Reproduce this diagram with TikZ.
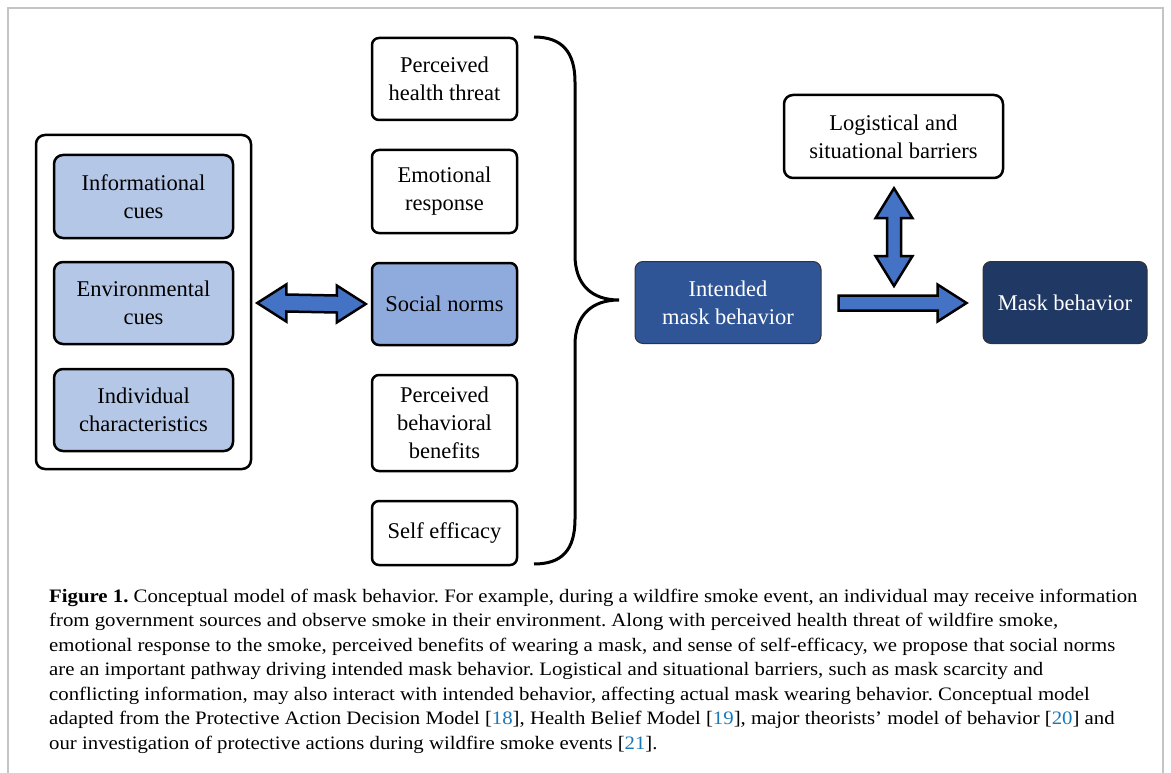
\documentclass[tikz,border=0pt]{standalone}
\usepackage{fontspec}
\setmainfont{Liberation Serif}
\newfontfamily\capfont[FakeStretch=1.094]{Liberation Serif}
\usetikzlibrary{calc}
\definecolor{lightfill}{HTML}{B4C7E7}
\definecolor{socfill}{HTML}{8FAADC}
\definecolor{intfill}{HTML}{2F5597}
\definecolor{maskfill}{HTML}{203864}
\definecolor{arrfill}{HTML}{4472C4}
\definecolor{framegray}{HTML}{C4C4C4}
\definecolor{refblue}{HTML}{1B78B8}
\newcommand{\rf}[1]{[\textcolor{refblue}{#1}]}
\frenchspacing
\tikzset{
  box/.style={draw=black, line width=2.5pt, rounded corners=9pt, align=center,
    font=\fontsize{22.5}{28}\selectfont, inner sep=0pt},
  darkbox/.style={draw=black!80, line width=1pt, rounded corners=8pt, align=center,
    font=\fontsize{22.5}{28}\selectfont, inner sep=0pt, text=white},
  fatarrow/.style={draw=black, line width=2.5pt, fill=arrfill, line join=miter},
  brace/.style={draw=black, line width=3pt},
  capline/.style={anchor=base west, inner sep=0pt, font=\capfont\fontsize{19}{24}\selectfont},
}
\begin{document}
\begin{tikzpicture}[x=1pt,y=-1pt]
\useasboundingbox (0,0) rectangle (1171,773);
\draw[framegray, line width=2pt] (8,773) -- (8,8) -- (1163,8) -- (1163,773);

% left group
\node[box, minimum width=215pt, minimum height=334pt] (cont) at (143.5,302) {};
\node[box, fill=lightfill, minimum width=179pt, minimum height=83pt] (info) at (143.5,196.5) {Informational\\cues};
\node[box, fill=lightfill, minimum width=179pt, minimum height=82pt] (env) at (143.5,303) {Environmental\\cues};
\node[box, fill=lightfill, minimum width=179pt, minimum height=82pt] (indiv) at (143.5,410) {Individual\\characteristics};

% middle column
\node[box, rounded corners=7pt, minimum width=145pt, minimum height=82pt] (pht) at (444.5,79) {Perceived\\health threat};
\node[box, rounded corners=7pt, minimum width=145pt, minimum height=83pt] (emo) at (444.5,191.5) {Emotional\\response};
\node[box, rounded corners=7pt, fill=socfill, minimum width=145pt, minimum height=82pt] (soc) at (444.5,304) {Social norms};
\node[box, rounded corners=7pt, minimum width=145pt, minimum height=96pt] (pbb) at (444.5,423) {Perceived\\behavioral\\benefits};
\node[box, rounded corners=7pt, minimum width=145pt, minimum height=64pt] (self) at (444.5,533) {Self efficacy};

% right side
\node[box, minimum width=219pt, minimum height=83pt] (log) at (893.5,136.5) {Logistical and\\situational barriers};
\node[darkbox, fill=intfill, minimum width=186pt, minimum height=82pt] (int) at (728,302.5) {Intended\\mask behavior};
\node[darkbox, fill=maskfill, minimum width=164pt, minimum height=82pt] (mask) at (1065,302.5) {Mask behavior};

% brace
\coordinate (btip) at (619,300);
\draw[brace] (534,37) .. controls (562,37) and (575,52) .. (575,82)
  -- (575,255) .. controls (575,285) and (592,300) .. (btip)
  .. controls (592,300) and (575,315) .. (575,345)
  -- (575,519) .. controls (575,550) and (562,564) .. (534,564);

% double arrow left
\coordinate (la) at ($(cont.east)+(5,1)$);
\coordinate (lb) at ($(soc.west)+(-5,0)$);
\draw[fatarrow] (la) -- ++(29,-18.5) -- ++(0,10) -- ($(lb)+(-29,-8.5)$) -- ++(0,-10)
  -- (lb) -- ++(-29,18.5) -- ++(0,-10) -- ($(la)+(29,8.5)$) -- ++(0,10) -- cycle;

% right arrow
\coordinate (ra) at ($(int.east)+(17,0.5)$);
\coordinate (rb) at ($(mask.west)+(-16,0.5)$);
\draw[fatarrow] ($(ra)+(0,-7.5)$) -- ($(rb)+(-29,-7.5)$) -- ++(0,-11) -- (rb)
  -- ++(-29,18.5) -- ++(0,-11) -- ($(ra)+(0,7.5)$) -- cycle;

% vertical double arrow
\coordinate (va) at ($(log.south)+(0.5,9)$);
\coordinate (vb) at (894,286);
\draw[fatarrow] (va) -- ++(18.5,30) -- ++(-11.5,0) -- ($(vb)+(7,-30)$) -- ++(11.5,0)
  -- (vb) -- ++(-18.5,-30) -- ++(11.5,0) -- ($(va)+(-7,30)$) -- ++(-11.5,0) -- cycle;

% caption
\node[capline] (c1) at (49,602) {\textbf{Figure 1.} Conceptual model of mask behavior. For example, during a wildfire smoke event, an individual may receive information};
\node[capline] (c2) at (49,626.5) {from government sources and observe smoke in their environment. Along with perceived health threat of wildfire smoke,};
\node[capline] (c3) at (49,651) {emotional response to the smoke, perceived benefits of wearing a mask, and sense of self-efficacy, we propose that social norms};
\node[capline] (c4) at (49,675.5) {are an important pathway driving intended mask behavior. Logistical and situational barriers, such as mask scarcity and};
\node[capline] (c5) at (49,700) {conflicting information, may also interact with intended behavior, affecting actual mask wearing behavior. Conceptual model};
\node[capline] (c6) at (49,724.5) {adapted from the Protective Action Decision Model \rf{18}, Health Belief Model \rf{19}, major theorists’ model of behavior \rf{20} and};
\node[capline] (c7) at (49,749) {our investigation of protective actions during wildfire smoke events \rf{21}.};
\end{tikzpicture}
\end{document}
